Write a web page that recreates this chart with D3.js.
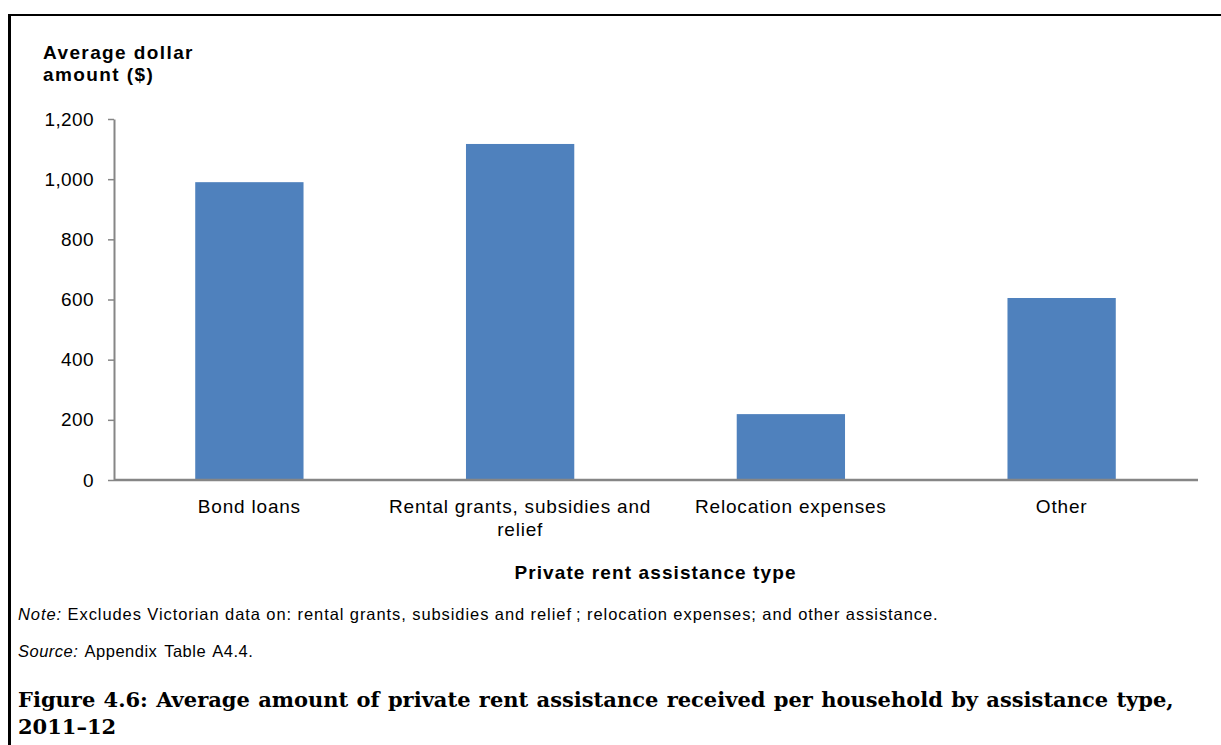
<!DOCTYPE html>
<html>
<head>
<meta charset="utf-8">
<script src="https://cdn.jsdelivr.net/npm/d3@7"></script>
<style>
  html, body { margin: 0; padding: 0; background: #ffffff; }
  svg { display: block; }
  text { fill: #000000; }
</style>
</head>
<body>
<svg id="chart" width="1221" height="745"></svg>
<script>
// Average private rent assistance per household, by assistance type (2011–12)
const categories = ["Bond loans", "Rental grants, subsidies and relief", "Relocation expenses", "Other"];
const values = [990, 1117, 219, 605];
const yTicks = [0, 200, 400, 600, 800, 1000, 1200];
const yTitle = ["Average dollar", "amount ($)"];
const xTitle = "Private rent assistance type";
const noteLabel = "Note:";
const noteText = " Excludes Victorian data on: rental grants, subsidies and relief\u2009; relocation expenses; and other assistance.";
const sourceLabel = "Source:";
const sourceText = " Appendix Table A4.4.";
const captionLines = ["Figure 4.6: Average amount of private rent assistance received per household by assistance type,", "2011\u201312"];

const W = 1221, H = 745;
const plot = { left: 114, right: 1197, top: 119, bottom: 480 };
const sans = "'Liberation Sans', Arial, sans-serif";
const serif = "'Palatino Linotype', 'Book Antiqua', 'DejaVu Serif', serif";
const axisColor = "#868686";
const barColor = "#4F81BD";

const svg = d3.select("#chart");

// Frame: heavy rule on top and along the left edge
svg.append("line").attr("x1", 8).attr("x2", W).attr("y1", 15).attr("y2", 15)
  .attr("stroke", "#000").attr("stroke-width", 2);
svg.append("line").attr("x1", 9.5).attr("x2", 9.5).attr("y1", 14).attr("y2", H)
  .attr("stroke", "#000").attr("stroke-width", 3);

const x = d3.scaleBand()
  .domain(categories)
  .range([plot.left, plot.right])
  .paddingInner(0.6)
  .paddingOuter(0.3);

const y = d3.scaleLinear()
  .domain([0, 1200])
  .range([plot.bottom, plot.top]);

// Bars
svg.append("g").selectAll("rect")
  .data(categories.map((c, i) => ({ c, v: values[i] })))
  .join("rect")
  .attr("x", d => x(d.c))
  .attr("width", x.bandwidth())
  .attr("y", d => y(d.v))
  .attr("height", d => y(0) - y(d.v))
  .attr("fill", barColor);

// Y axis
const yAxis = svg.append("g")
  .attr("transform", `translate(${plot.left},0)`)
  .call(d3.axisLeft(y).tickValues(yTicks).tickFormat(d3.format(",")).tickSize(6).tickSizeOuter(0).tickPadding(14));
yAxis.select(".domain").attr("stroke", axisColor).attr("stroke-width", 2);
yAxis.selectAll(".tick line").attr("stroke", axisColor).attr("stroke-width", 1.5);
yAxis.selectAll(".tick text")
  .attr("font-family", sans).attr("font-size", 19).attr("letter-spacing", 0.4).attr("fill", "#000");

// X axis (baseline only, no tick marks)
const xAxis = svg.append("g")
  .attr("transform", `translate(0,${plot.bottom})`)
  .call(d3.axisBottom(x).tickSize(0).tickSizeOuter(0).tickPadding(20));
xAxis.select(".domain").attr("stroke", axisColor).attr("stroke-width", 2.5)
  .attr("d", `M${plot.left},0H${plot.right + 1}`);
xAxis.selectAll(".tick text")
  .attr("font-family", sans).attr("font-size", 19).attr("letter-spacing", 0.8).attr("fill", "#000")
  .call(wrap, x.step() + 4);

function wrap(sel, width) {
  sel.each(function () {
    const t = d3.select(this);
    const words = t.text().split(/\s+/);
    const yAttr = t.attr("y");
    const dy = parseFloat(t.attr("dy"));
    t.text(null);
    let line = [];
    let lineNo = 0;
    let tspan = t.append("tspan").attr("x", 0).attr("y", yAttr).attr("dy", dy + "em");
    for (const w of words) {
      line.push(w);
      tspan.text(line.join(" "));
      if (tspan.node().getComputedTextLength() > width && line.length > 1) {
        line.pop();
        tspan.text(line.join(" "));
        line = [w];
        lineNo++;
        tspan = t.append("tspan").attr("x", 0).attr("y", yAttr)
          .attr("dy", (dy + lineNo * 1.2) + "em").text(w);
      }
    }
  });
}

// Axis titles
svg.append("text")
  .attr("font-family", sans).attr("font-size", 19).attr("font-weight", "bold").attr("letter-spacing", 1.4)
  .selectAll("tspan").data(yTitle).join("tspan")
  .attr("x", 43).attr("y", (d, i) => 59 + i * 22)
  .text(d => d);

svg.append("text")
  .attr("x", (plot.left + plot.right) / 2).attr("y", 579)
  .attr("text-anchor", "middle")
  .attr("font-family", sans).attr("font-size", 19).attr("font-weight", "bold").attr("letter-spacing", 1.1)
  .text(xTitle);

// Note and source
const note = svg.append("text").attr("x", 18).attr("y", 620)
  .attr("font-family", sans).attr("font-size", 16.5).attr("letter-spacing", 0.92);
note.append("tspan").attr("font-style", "italic").text(noteLabel);
note.append("tspan").text(noteText);

const src = svg.append("text").attr("x", 18).attr("y", 657)
  .attr("font-family", sans).attr("font-size", 16.5).attr("letter-spacing", 0.5).attr("word-spacing", 2);
src.append("tspan").attr("font-style", "italic").text(sourceLabel);
src.append("tspan").text(sourceText);

// Figure caption
svg.append("text")
  .attr("font-family", serif).attr("font-size", 21).attr("font-weight", "bold").attr("word-spacing", 1)
  .selectAll("tspan").data(captionLines).join("tspan")
  .attr("x", 18).attr("y", (d, i) => 707 + i * 27)
  .text(d => d);
</script>
</body>
</html>
